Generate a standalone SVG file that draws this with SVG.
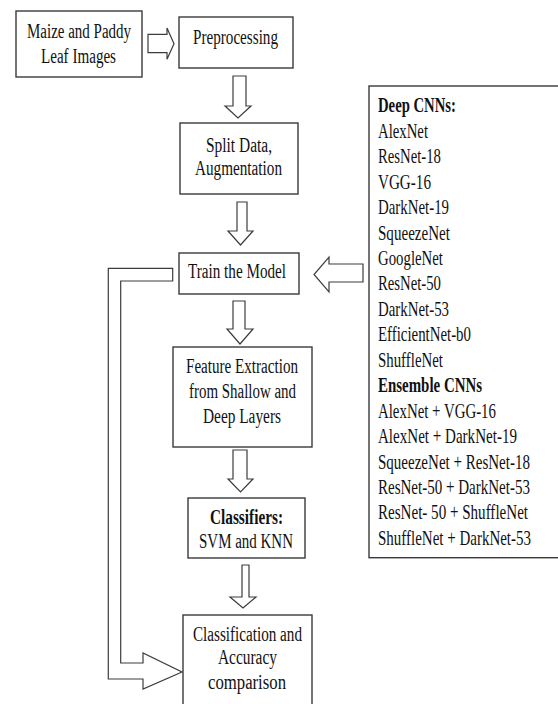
<svg xmlns="http://www.w3.org/2000/svg" width="558" height="704" viewBox="0 0 558 704">
<style>
  .box { fill: #ffffff; stroke: #3a3a3a; stroke-width: 1.4; }
  .arr { fill: #ffffff; stroke: #3c3c3c; stroke-width: 1.2; stroke-linejoin: miter; }
  text { font-family: "Liberation Serif", "Times New Roman", serif; font-size: 20.5px; fill: #111111; }
  .b { font-weight: bold; }
</style>
<rect width="558" height="704" fill="#ffffff"/>

<g id="connectors">
  <polygon class="arr" points="148,34.3 167,34.3 167,28 174,43.7 167,59.3 167,52.7 148,52.7"/>
  <polygon class="arr" points="233,76 246,76 246,106 251,106 238,118 225,106 233,106"/>
  <polygon class="arr" points="237,202 247,202 247,231 253,231 240.5,245 228,231 237,231"/>
  <polygon class="arr" points="363,264 329,264 329,257 314,274.5 329,292 329,282 363,282"/>
  <polygon class="arr" points="233,301 245,301 245,329 253,329 240,344 227,329 233,329"/>
  <polygon class="arr" points="233,450 247,450 247,479 253,479 240.5,492 228,479 233,479"/>
  <polygon class="arr" points="242,565 249,565 249,597 256,597 243,608 230,597 242,597"/>
  <polygon class="arr" points="172.7,268.3 108.3,268.3 108.3,679 143,679 143,689 182,672 143,653 143,663 120.7,663 120.7,281 172.7,281"/>
</g>

<g id="node-input">
  <rect class="box" x="16" y="11" width="126" height="66"/>
  <text x="27" y="37.7" textLength="104" lengthAdjust="spacingAndGlyphs">Maize and Paddy</text>
  <text x="41" y="62.7" textLength="75" lengthAdjust="spacingAndGlyphs">Leaf Images</text>
</g>

<g id="node-preprocessing">
  <rect class="box" x="179" y="17" width="114" height="51"/>
  <text x="193" y="44" textLength="85" lengthAdjust="spacingAndGlyphs">Preprocessing</text>
</g>

<g id="node-split">
  <rect class="box" x="180" y="123" width="118" height="71"/>
  <text x="206" y="152" textLength="66" lengthAdjust="spacingAndGlyphs">Split Data,</text>
  <text x="195" y="175" textLength="87" lengthAdjust="spacingAndGlyphs">Augmentation</text>
</g>

<g id="node-train">
  <rect class="box" x="179" y="253" width="120" height="41"/>
  <text x="188" y="277.7" textLength="98" lengthAdjust="spacingAndGlyphs">Train the Model</text>
</g>

<g id="node-feature">
  <rect class="box" x="173" y="347" width="139" height="100"/>
  <text x="186" y="373" textLength="112" lengthAdjust="spacingAndGlyphs">Feature Extraction</text>
  <text x="189" y="398" textLength="107" lengthAdjust="spacingAndGlyphs">from Shallow and</text>
  <text x="203" y="423" textLength="78" lengthAdjust="spacingAndGlyphs">Deep Layers</text>
</g>

<g id="node-classifiers">
  <rect class="box" x="188" y="498" width="117" height="60"/>
  <text class="b" x="210" y="524" textLength="73" lengthAdjust="spacingAndGlyphs">Classifiers:</text>
  <text x="199" y="548" textLength="94" lengthAdjust="spacingAndGlyphs">SVM and KNN</text>
</g>

<g id="node-classification">
  <rect class="box" x="183" y="615" width="129" height="100"/>
  <text x="193" y="641" textLength="109" lengthAdjust="spacingAndGlyphs">Classification and</text>
  <text x="218" y="664" textLength="59" lengthAdjust="spacingAndGlyphs">Accuracy</text>
  <text x="208" y="689" textLength="78" lengthAdjust="spacingAndGlyphs">comparison</text>
</g>

<g id="node-cnns">
  <rect class="box" x="369" y="86" width="200" height="471.7"/>
  <g transform="matrix(0.73,0,0,1,0,0)">
    <text class="b" x="517.8" y="112.3" textLength="106.8" lengthAdjust="spacingAndGlyphs">Deep CNNs:</text>
    <text x="517.8" y="137.8" textLength="68.5" lengthAdjust="spacingAndGlyphs">AlexNet</text>
    <text x="517.8" y="163.2" textLength="86.3" lengthAdjust="spacingAndGlyphs">ResNet-18</text>
    <text x="517.8" y="188.7" textLength="72.6" lengthAdjust="spacingAndGlyphs">VGG-16</text>
    <text x="517.8" y="214.1" textLength="97.3" lengthAdjust="spacingAndGlyphs">DarkNet-19</text>
    <text x="517.8" y="239.6" textLength="98.6" lengthAdjust="spacingAndGlyphs">SqueezeNet</text>
    <text x="517.8" y="265" textLength="89" lengthAdjust="spacingAndGlyphs">GoogleNet</text>
    <text x="517.8" y="290.5" textLength="86.3" lengthAdjust="spacingAndGlyphs">ResNet-50</text>
    <text x="517.8" y="315.9" textLength="97.3" lengthAdjust="spacingAndGlyphs">DarkNet-53</text>
    <text x="517.8" y="341.4" textLength="127.4" lengthAdjust="spacingAndGlyphs">EfficientNet-b0</text>
    <text x="517.8" y="366.8" textLength="89" lengthAdjust="spacingAndGlyphs">ShuffleNet</text>
    <text class="b" x="517.8" y="392.3" textLength="142.5" lengthAdjust="spacingAndGlyphs">Ensemble CNNs</text>
    <text x="517.8" y="417.7" textLength="161.6" lengthAdjust="spacingAndGlyphs">AlexNet + VGG-16</text>
    <text x="517.8" y="443.2" textLength="190.4" lengthAdjust="spacingAndGlyphs">AlexNet + DarkNet-19</text>
    <text x="517.8" y="468.6" textLength="208.2" lengthAdjust="spacingAndGlyphs">SqueezeNet + ResNet-18</text>
    <text x="517.8" y="494.1" textLength="208.2" lengthAdjust="spacingAndGlyphs">ResNet-50 + DarkNet-53</text>
    <text x="517.8" y="519.5" textLength="205.5" lengthAdjust="spacingAndGlyphs">ResNet- 50 + ShuffleNet</text>
    <text x="517.8" y="545" textLength="209.6" lengthAdjust="spacingAndGlyphs">ShuffleNet + DarkNet-53</text>
  </g>
</g>
</svg>
